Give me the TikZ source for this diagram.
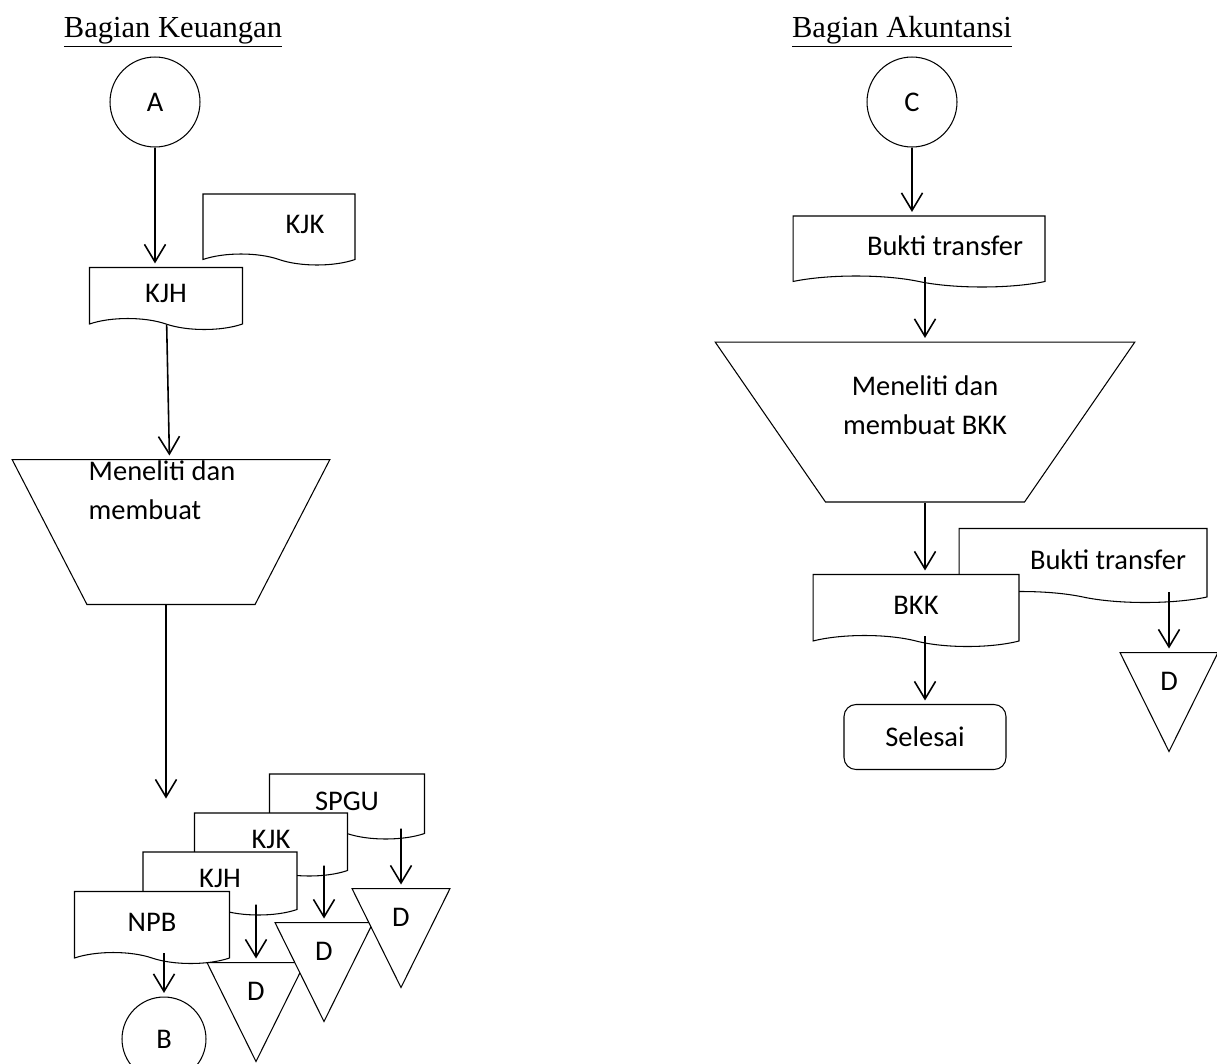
\documentclass[tikz,border=0pt]{standalone}
\usepackage{fontspec}
\setmainfont{Carlito}
\newfontfamily\headfont{Liberation Serif}
\usetikzlibrary{arrows.meta,shapes.geometric,shapes.symbols,positioning}

\tikzset{
  doc/.style={draw, fill=white, tape, tape bend top=none, tape bend bottom=out and in, tape bend height=0.22cm, inner sep=2pt},
  conn/.style={draw, circle, inner sep=0pt},
  proc/.style={draw, trapezium, shape border rotate=180, trapezium stretches=true},
  store/.style={draw, fill=white, isosceles triangle, isosceles triangle stretches, shape border rotate=270, inner sep=0pt, minimum height=1.98cm, minimum width=1.96cm},
  term/.style={draw, rounded corners=0.24cm, minimum width=3.24cm, minimum height=1.3cm},
  head/.style={font=\headfont\fontsize{17.4}{20}\selectfont}
}

\begin{document}
\begin{tikzpicture}[x=0.02cm, y=-0.02cm, >={Straight Barb[length=10pt,width=12pt]}, shorten >=2pt, line width=0.6pt, font=\fontsize{16.2}{22.5}\selectfont]
  \clip (0,0) rectangle (1217,1063);
  % Bagian Keuangan
  \node[head] (h_keu) at (173,32) {\underline{Bagian Keuangan}};
  \node[conn, minimum size=1.8cm] (c_A) at (155,102) {A};
  \node[doc, minimum width=3.04cm, minimum height=1.42cm] (kjk_1) at (279,224) {\hspace*{1.04cm}KJK};
  \node[doc, minimum width=3.06cm, minimum height=1.24cm] (kjh_1) at (166,293) {KJH};
  \node[proc, trapezium left angle=66, trapezium right angle=66, minimum width=6.36cm, minimum height=2.9cm,
        label={[align=left, xshift=-0.18cm, yshift=0.84cm]center:Meneliti dan\\membuat}] (trap_1) at (171,532) {};
  \coordinate (tip_1) at (166,802);
  \node[doc, minimum width=3.1cm, minimum height=1.3cm] (spgu) at (347,801) {SPGU};
  \node[doc, minimum width=3.06cm, minimum height=1.26cm] (kjk_2) at (271,839) {KJK};
  \node[doc, minimum width=3.08cm, minimum height=1.26cm] (kjh_2) at (220,878) {KJH};
  \node[doc, minimum width=3.1cm, minimum height=1.44cm] (npb) at (152,922) {NPB};
  \node[conn, minimum size=1.68cm] (c_B) at (164,1039) {B};
  \node[store, anchor=north] (d_1) at (256,962) {D};
  \node[store, anchor=north] (d_2) at (324,922) {D};
  \node[store, anchor=north] (d_3) at (401,888) {D};

  % Bagian Akuntansi
  \node[head] (h_akt) at (902,32) {\underline{Bagian Akuntansi}};
  \node[conn, minimum size=1.8cm] (c_C) at (912,102) {C};
  \node[doc, minimum width=5.04cm, minimum height=1.42cm] (bt_1) at (919,246) {\hspace*{1.04cm}Bukti transfer};
  \node[proc, trapezium left angle=61, trapezium right angle=61, minimum width=8.4cm, minimum height=3.2cm,
        label={[align=center, yshift=0.34cm]center:Meneliti dan\\membuat BKK}] (trap_2) at (925,422) {};
  \node[doc, minimum width=4.96cm, minimum height=1.48cm] (bt_2) at (1083,560) {\hspace*{1cm}Bukti transfer};
  \node[doc, minimum width=4.12cm, minimum height=1.44cm] (bkk) at (916,605) {BKK};
  \node[term] (selesai) at (925,737) {Selesai};
  \node[store, anchor=north] (d_4) at (1169,652) {D};

  \path[->, line width=0.9pt]
    (c_A) edge (c_A |- kjh_1.north)
    (kjh_1) edge (trap_1)
    (trap_1.south -| tip_1) edge (tip_1)
    (c_B |- npb.south) edge (c_B)
    (d_1 |- kjh_2.south) edge (d_1)
    (d_2 |- kjk_2.south) edge (d_2)
    (d_3 |- spgu.south) edge (d_3)
    (c_C) edge (c_C |- bt_1.north)
    (trap_2 |- bt_1.south) edge (trap_2)
    (trap_2.south) edge (trap_2.south |- bkk.north)
    (selesai |- bkk.south) edge (selesai)
    (d_4 |- bt_2.south) edge (d_4);
\end{tikzpicture}
\end{document}
